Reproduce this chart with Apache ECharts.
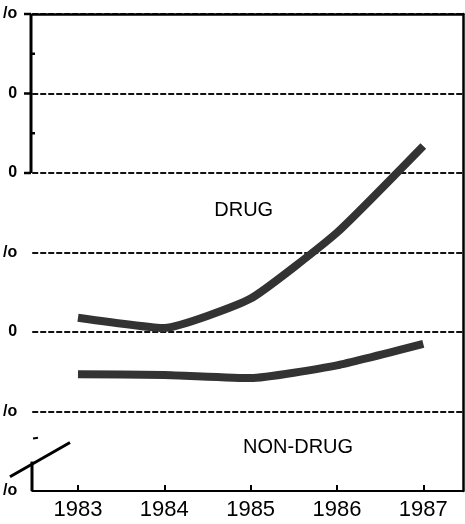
<!DOCTYPE html>
<html>
<head>
<meta charset="utf-8">
<script src="https://cdn.jsdelivr.net/npm/echarts@6/dist/echarts.min.js"></script>
<style>
  html, body { margin: 0; padding: 0; background: #fff; }
  #main { width: 465px; height: 524px; }
</style>
</head>
<body>
<div id="main"></div>
<script>
// data
const years = [1983, 1984, 1985, 1986, 1987];
const drug = [21.8, 20.5, 24.2, 32.5, 43.4];
const nonDrug = [14.7, 14.6, 14.2, 15.8, 18.5];
const yTickValues = [0, 10, 20, 30, 40, 50, 60];
const yTickLabels = ['/o', '/o', '0', '/o', '0', '0', '/o'];

const chart = echarts.init(document.getElementById('main'));
const FONT = '"Liberation Sans", Arial, sans-serif';
const LINE = '#333';

const option = {
  animation: false,
  backgroundColor: '#fff',
  grid: { left: 31, right: 2, top: 14, bottom: 33 },
  xAxis: [
    {
      type: 'value',
      min: 1982.47,
      max: 1987.46,
      axisLine: { show: true, onZero: false, lineStyle: { color: '#000', width: 2 } },
      axisTick: { show: true, inside: true, length: 6, customValues: years, lineStyle: { color: '#000', width: 2 } },
      axisLabel: {
        customValues: years,
        color: '#000', fontSize: 22, fontFamily: FONT, margin: 8,
        formatter: v => String(v)
      },
      splitLine: { show: false }
    },
    {
      type: 'value', position: 'top', min: 1982.47, max: 1987.46,
      axisLine: { show: true, onZero: false, lineStyle: { color: '#000', width: 2.5 } },
      axisTick: { show: false }, axisLabel: { show: false }, splitLine: { show: false }
    }
  ],
  yAxis: [
    {
      type: 'value',
      min: 0, max: 60, interval: 10,
      axisLine: { show: false },
      axisTick: { show: false },
      axisLabel: {
        color: '#000', fontSize: 16, fontWeight: 'bold', fontFamily: FONT,
        margin: 15, align: 'right',
        formatter: v => yTickLabels[yTickValues.indexOf(v)] || ''
      },
      splitLine: { show: true, lineStyle: { color: '#111', width: 2, type: [6, 2] } }
    },
    {
      type: 'value', position: 'right', min: 0, max: 60,
      axisLine: { show: true, onZero: false, lineStyle: { color: '#000', width: 2.5 } },
      axisTick: { show: false }, axisLabel: { show: false }, splitLine: { show: false }
    }
  ],
  series: [
    {
      name: 'DRUG', type: 'line',
      data: years.map((y, i) => [y, drug[i]]),
      showSymbol: false, smooth: 0.15,
      lineStyle: { color: LINE, width: 8 }
    },
    {
      name: 'NON-DRUG', type: 'line',
      data: years.map((y, i) => [y, nonDrug[i]]),
      showSymbol: false, smooth: 0.15,
      lineStyle: { color: LINE, width: 8 }
    }
  ]
};
chart.setOption(option);

// partial left axis, ticks, axis break and the in-chart labels
const px = (x, y) => chart.convertToPixel({ xAxisIndex: 0, yAxisIndex: 0 }, [x, y]);
const x0 = 31;
const yAt = v => px(1985, v)[1];
const seg = (x1, y1, x2, y2, w) => ({
  type: 'line', shape: { x1, y1, x2, y2 },
  style: { stroke: '#000', lineWidth: w || 3 }
});
const dLab = px(1984.92, 35.3);
const nLab = px(1985.55, 5.5);
chart.setOption({
  graphic: [
    seg(x0, yAt(60), x0, yAt(40)),
    seg(x0 - 7, yAt(60), x0, yAt(60), 2.5),
    seg(x0 - 7, yAt(50), x0, yAt(50), 2.5),
    seg(x0 - 7, yAt(40), x0, yAt(40), 2.5),
    seg(x0, yAt(55), x0 + 4, yAt(55), 2.5),
    seg(x0, yAt(45), x0 + 4, yAt(45), 2.5),
    seg(x0 + 1, yAt(3.7), x0 + 1, yAt(0)),
    seg(10, yAt(1.8), 70, yAt(6.1), 3),
    seg(33, yAt(6.6), 38, yAt(6.7), 2),
    {
      type: 'text', x: dLab[0], y: dLab[1],
      style: { text: 'DRUG', fill: '#000', font: '20px ' + FONT, align: 'center', verticalAlign: 'middle' }
    },
    {
      type: 'text', x: nLab[0], y: nLab[1],
      style: { text: 'NON-DRUG', fill: '#000', font: '20px ' + FONT, align: 'center', verticalAlign: 'middle' }
    }
  ]
});
</script>
</body>
</html>
